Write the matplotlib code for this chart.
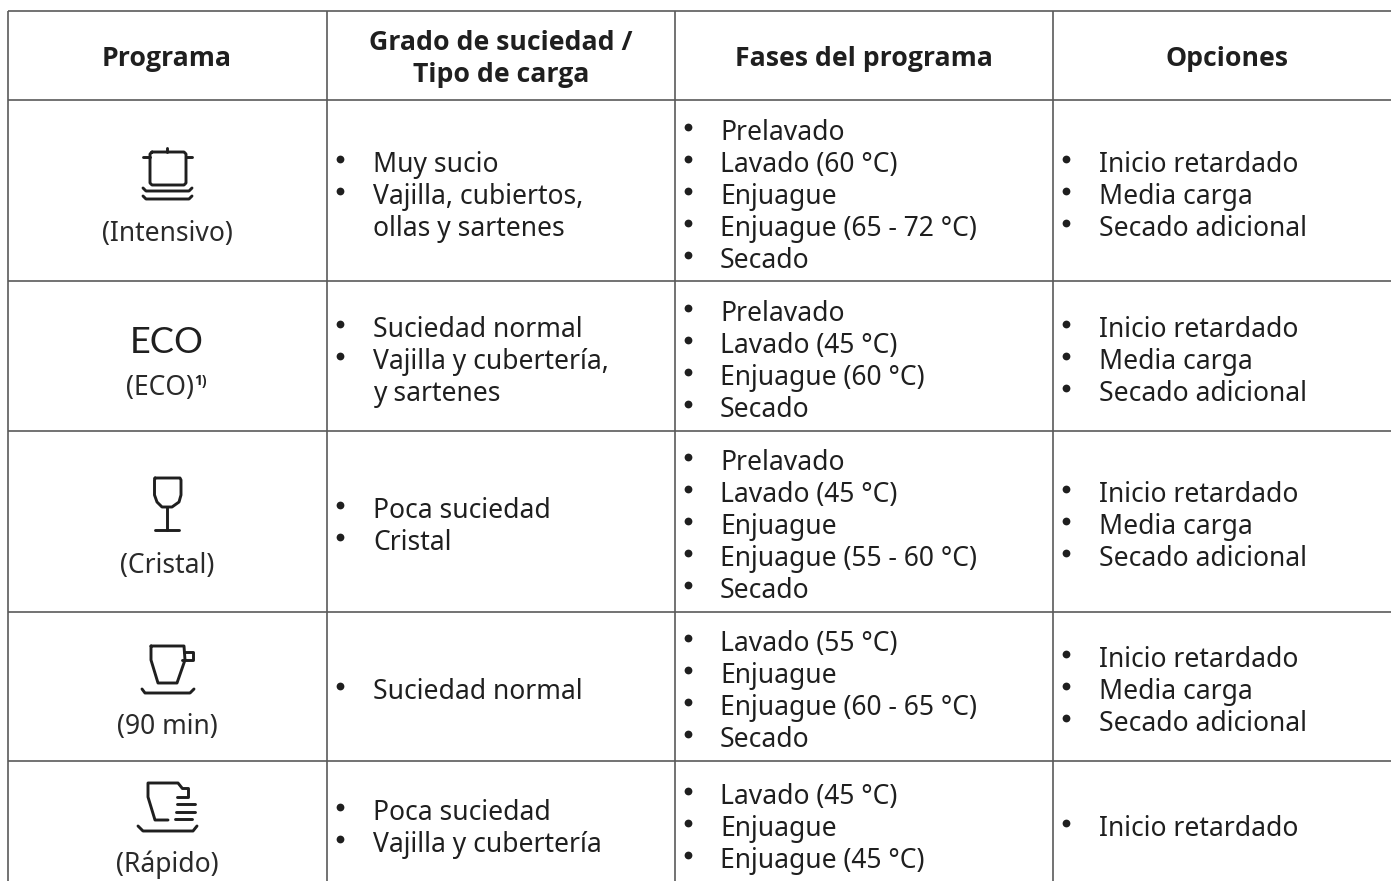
import matplotlib
matplotlib.use('Agg')
from matplotlib import pyplot as plt

plt.rcParams['font.family'] = ['Noto Sans', 'DejaVu Sans']

###########
# Content #
###########

headers = [['Programa'], ['Grado de suciedad /', 'Tipo de carga'], ['Fases del programa'], ['Opciones']]
header_y = [[57], [41, 73], [57], [57]]

names = ['(Intensivo)', '(ECO)', '(Cristal)', '(90 min)', '(Rápido)']
name_x = [167, 160, 167, 167, 167]
name_y = [231, 385, 563, 724, 862]

# (text, y of the line, has bullet)
soil = [
    [('Muy sucio', 162, True), ('Vajilla, cubiertos,', 194, True), ('ollas y sartenes', 226, False)],
    [('Suciedad normal', 327, True), ('Vajilla y cubertería,', 359, True), ('y sartenes', 391, False)],
    [('Poca suciedad', 508, True), ('Cristal', 540, True)],
    [('Suciedad normal', 689, True)],
    [('Poca suciedad', 810, True), ('Vajilla y cubertería', 842, True)],
]
phases = [
    [('Prelavado', 130), ('Lavado (60 °C)', 162), ('Enjuague', 194), ('Enjuague (65 - 72 °C)', 226), ('Secado', 258)],
    [('Prelavado', 311), ('Lavado (45 °C)', 343), ('Enjuague (60 °C)', 375), ('Secado', 407)],
    [('Prelavado', 460), ('Lavado (45 °C)', 492), ('Enjuague', 524), ('Enjuague (55 - 60 °C)', 556), ('Secado', 588)],
    [('Lavado (55 °C)', 641), ('Enjuague', 673), ('Enjuague (60 - 65 °C)', 705), ('Secado', 737)],
    [('Lavado (45 °C)', 794), ('Enjuague', 826), ('Enjuague (45 °C)', 858)],
]
options = [
    [('Inicio retardado', 162), ('Media carga', 194), ('Secado adicional', 226)],
    [('Inicio retardado', 327), ('Media carga', 359), ('Secado adicional', 391)],
    [('Inicio retardado', 492), ('Media carga', 524), ('Secado adicional', 556)],
    [('Inicio retardado', 657), ('Media carga', 689), ('Secado adicional', 721)],
    [('Inicio retardado', 826)],
]

col_x = [8, 327, 675, 1053]
row_y = [11, 100, 281, 431, 612, 761]
col_mid = [167, 501, 864, 1227]

FS = 19.05
TXT = '#1f1f1f'
GRID = '#5a5a5a'
ICON = '#1f1f1f'

fig = plt.figure(figsize=(13.91, 8.81), dpi=100)
ax = fig.add_axes([0, 0, 1, 1])
ax.set_xlim(0, 1391)
ax.set_ylim(881, 0)
ax.axis('off')

########
# Grid #
########

for y in row_y:
    ax.plot([col_x[0], 1391], [y, y], color=GRID, lw=1.2, solid_capstyle='butt')
for x in col_x:
    ax.plot([x, x], [row_y[0], 881], color=GRID, lw=1.2, solid_capstyle='butt')

##########
# Header #
##########

for mid, lines, ys in zip(col_mid, headers, header_y):
    for line, y in zip(lines, ys):
        ax.text(mid, y + 9, line, fontsize=19.2, fontweight='bold', color=TXT, ha='center', va='baseline',
                fontfamily=['Open Sans', 'DejaVu Sans'])

###########
# Columns #
###########

def bullet_line(x_b, x_t, y, text, has_bullet=True):
    if has_bullet:
        ax.plot([x_b], [y - 3], 'o', color=TXT, ms=5.6, mew=0)
    ax.text(x_t, y + 10, text, fontsize=FS, color=TXT, ha='left', va='baseline')

for name, x, y in zip(names, name_x, name_y):
    ax.text(x, y + 10, name, fontsize=FS, color='#2a2a2a', ha='center', va='baseline')
ax.text(194, 385, '1)', fontsize=10, fontweight='bold', color=TXT, ha='left', va='baseline',
        fontfamily=['Open Sans', 'DejaVu Sans'])

for row in soil:
    for text, y, b in row:
        bullet_line(340, 373, y, text, b)
for row in phases:
    for text, y in row:
        bullet_line(688, 720, y, text)
for row in options:
    for text, y in row:
        bullet_line(1066, 1099, y, text)

#########
# Icons #
#########

def icon(xs, ys, lw=2.1):
    ax.plot(xs, ys, color=ICON, lw=lw, solid_capstyle='round', solid_joinstyle='round')

# pot
icon([152, 184, 186, 186, 184, 152, 150, 150, 152], [152, 152, 154, 183, 185, 185, 183, 154, 152])
icon([143, 150], [157, 157])
icon([186, 192], [157, 157])
icon([167, 167], [148, 152])
icon([143, 146, 189, 192], [188, 191, 191, 188])
icon([143, 146, 189, 192], [196, 199, 199, 196])

ax.text(167, 353, 'ECO', fontsize=26, color=ICON, ha='center', va='baseline',
        fontfamily=['Lato', 'DejaVu Sans'])

# glass
icon([155, 180, 181, 181, 179, 172, 162, 157, 154.5, 154.5, 155],
     [478, 478, 480, 495, 502, 507, 507, 502, 495, 480, 478])
icon([167, 167], [507, 530])
icon([155, 179], [530, 530])

# cup
icon([151, 184, 185, 177, 158, 151, 151], [646, 646, 660, 683, 683, 660, 646])
icon([184, 193, 193, 182], [652, 652, 660, 660])
icon([142, 145, 190, 194], [689, 693, 693, 689])

# cup with speed lines
icon([168, 155, 148, 148, 178, 182], [820, 820, 797, 783, 783, 788])
icon([182, 188, 188, 177], [788, 788, 797, 797])
icon([177, 195], [804, 804])
icon([176, 195], [812, 812])
icon([175, 192], [819, 819])
icon([138, 143, 193, 197], [826, 831, 831, 826])

fig.savefig('out.png', dpi=100)
